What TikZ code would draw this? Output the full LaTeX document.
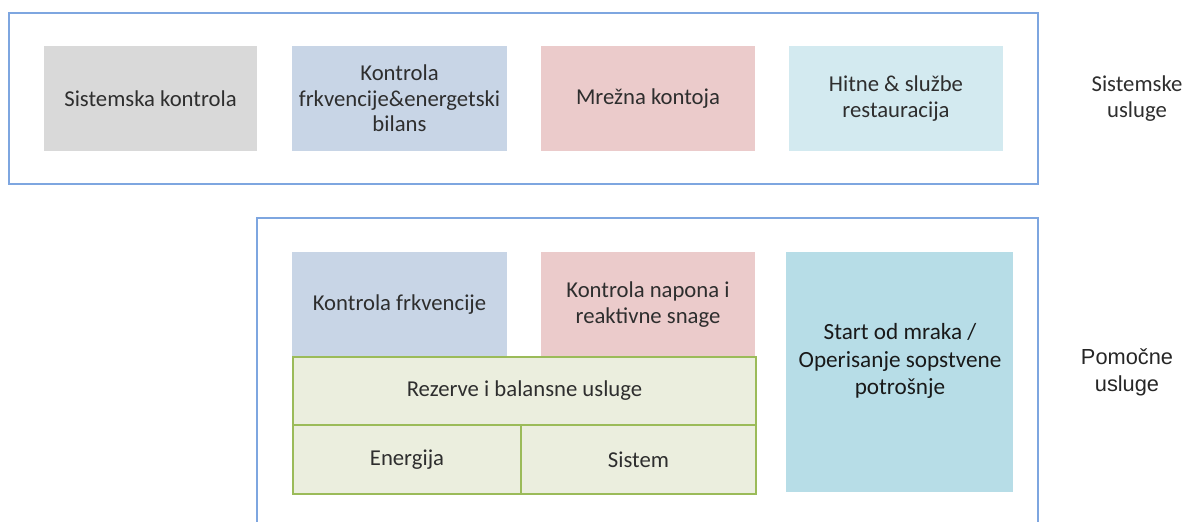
\documentclass[tikz,border=0pt]{standalone}
\usepackage{fontspec}
\setmainfont{Carlito}
\newfontfamily\arialf{Liberation Sans}
\definecolor{frame}{HTML}{7EA6E0}
\definecolor{txt}{HTML}{2E2E2E}
\definecolor{cgray}{HTML}{D9D9D9}
\definecolor{cblue}{HTML}{C8D5E6}
\definecolor{cpink}{HTML}{EBCBCB}
\definecolor{ccyan}{HTML}{D3EAF0}
\definecolor{cteal}{HTML}{B7DDE7}
\definecolor{gfill}{HTML}{EBEEDE}
\definecolor{gline}{HTML}{9BBB59}
\tikzset{
  x=1pt,y=-1pt,
  box/.style={inner sep=0pt, align=center, text=txt, font=\fontsize{22.7}{25.5}\selectfont},
  gbox/.style={box, fill=gfill, draw=gline, line width=2pt},
  lbl/.style={inner sep=0pt, align=center, text=txt, font=\fontsize{22.7}{25.5}\selectfont},
  outer/.style={draw=frame, line width=2.5pt}
}
\begin{document}
\begin{tikzpicture}
\useasboundingbox (0,0) rectangle (1187,522);
% top group
\node[outer, minimum width=1029pt, minimum height=171pt, inner sep=0pt] (topframe) at (523.5,98.5) {};
\node[box, fill=cgray, minimum width=213pt, minimum height=105pt] (sk) at (150.5,98.5) {Sistemska kontrola};
\node[box, fill=cblue, minimum width=215pt, minimum height=105pt] (kf) at (399.5,98.5) {Kontrola\\frkvencije\&energetski\\bilans};
\node[box, fill=cpink, minimum width=214pt, minimum height=105pt] (mk) at (648,98.5) {Mrežna kontoja};
\node[box, fill=ccyan, minimum width=214pt, minimum height=105pt] (hs) at (896,98.5) {Hitne \& službe\\restauracija};
\node[lbl] (su) at (1137,98.5) {Sistemske\\usluge};
% bottom group
\coordinate (bl) at (257,530);
\coordinate (tl) at (257,218);
\coordinate (tr) at (1038,218);
\coordinate (br) at (1038,530);
\draw[outer] (bl) -- (tl) -- (tr) -- (br);
\node[box, fill=cblue, minimum width=215pt, minimum height=104pt, anchor=north west] (fr) at (292,252) {};
\node[box] (frt) at (399.5,305) {Kontrola frkvencije};
\node[box, fill=cpink, minimum width=214pt, minimum height=104pt, anchor=north west] (np) at (541,252) {};
\node[box] (npt) at (648,304.5) {Kontrola napona i\\reaktivne snage};
\node[gbox, minimum width=463pt, minimum height=68pt, anchor=north west] (rez) at (292,356) {Rezerve i balansne usluge};
\node[gbox, minimum width=228pt, minimum height=69pt, anchor=north west] (en) at (292,424) {Energija};
\node[gbox, minimum width=235pt, minimum height=69pt, anchor=north west] (sis) at (520,424) {Sistem};
\node[box, fill=cteal, minimum width=227pt, minimum height=240pt] (st) at (899.5,372) {};
\node[box, text=black!90, font=\fontsize{23.2}{27.5}\selectfont] (stt) at (900,361) {Start od mraka /\\Operisanje sopstvene\\potrošnje};
\node[lbl, text=black!85, font=\arialf\fontsize{21.8}{27}\selectfont] (pu) at (1127,372) {Pomočne\\usluge};
\end{tikzpicture}
\end{document}
